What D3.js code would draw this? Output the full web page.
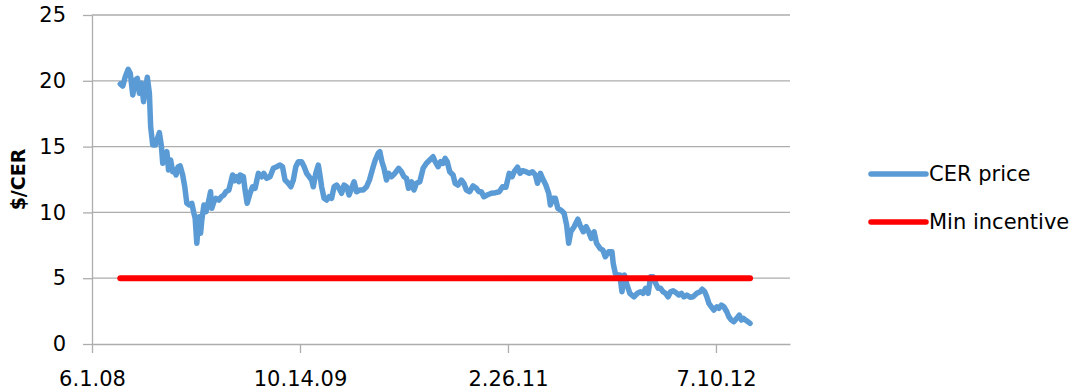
<!DOCTYPE html>
<html>
<head>
<meta charset="utf-8">
<script src="https://cdn.jsdelivr.net/npm/d3@7"></script>
<style>
  body { margin: 0; background: #fff; }
  svg { display: block; }
  text { font-family: "DejaVu Sans", "Open Sans", sans-serif; fill: #000; }
</style>
</head>
<body>
<svg id="chart" width="1078" height="392"></svg>
<script>
// Day count from 1 June 2008 for each CER price observation
const startDate = new Date(2008, 5, 1);
const dayOffsets = [
  68,74,80,87,92,98,104,109,114,119,124,128,133,138,141,146,152,156,162,167,
  170,175,180,184,189,194,199,202,207,212,218,223,228,234,240,245,248,252,255,258,
  261,264,269,274,281,285,288,293,298,305,311,317,322,329,333,338,343,348,353,
  356,364,368,373,380,386,392,400,408,413,420,428,436,444,452,458,464,472,478,484,
  490,496,504,510,516,522,528,532,538,544,548,552,558,564,570,576,582,588,594,600,
  606,612,618,624,630,636,644,652,660,667,
  676,681,688,692,697,702,708,713,720,728,737,744,750,756,761,768,774,780,788,796,
  804,812,820,825,832,838,844,849,854,860,868,873,880,888,894,900,908,916,924,930,
  936,942,950,960,970,
  979,987,995,1003,1010,1015,1023,1029,1035,1043,1051,1059,1066,1071,1078,1083,1091,1098,1102,1107,
  1114,1120,1127,1135,1141,1146,1151,1159,1168,1173,1181,1188,1194,1200,1207,1213,1221,1228,1234,1242,
  1250,1253,1258,1264,1269,1274,1280,
  1285,1293,1303,1311,1319,1325,1331,1337,1343,1349,1355,1361,1367,1373,1379,1385,1391,1397,1406,1411,
  1417,1423,1430,1438,1445,1454,1462,1467,1473,1478,1483,1489,1495,1502,1507,1513,1519,1526,1531,1537,
  1543,1550,1556,1561,1566,1571,1577,1582
];

// CER price, $ per CER
const cerPrice = [
  19.76,19.60,20.31,20.87,20.57,18.92,20.06,20.19,19.05,19.81,18.41,19.30,20.27,19.05,16.51,15.12,15.12,15.50,16.06,14.99,
  13.73,14.36,14.61,13.22,13.98,13.09,13.22,12.84,13.47,13.53,12.84,11.95,10.69,10.56,10.69,9.93,9.55,7.65,8.91,9.67,
  8.41,9.42,10.56,10.05,10.94,11.57,10.31,10.81,11.07,10.94,11.19,11.32,11.57,11.70,12.21,12.84,12.41,12.71,12.33,
  12.84,12.71,11.70,10.69,11.45,11.95,11.83,12.97,12.71,12.97,12.59,12.71,13.35,13.47,13.60,13.47,12.46,12.21,11.95,12.46,
  13.47,13.85,13.85,13.47,12.97,12.71,12.46,11.95,12.97,13.60,12.84,11.95,11.07,10.94,11.19,11.07,11.95,12.08,11.83,11.45,
  12.08,11.95,11.32,11.83,12.33,11.57,11.70,11.70,11.95,12.46,
  13.47,13.98,14.49,14.61,13.85,13.35,12.46,12.97,12.71,12.97,13.35,13.09,12.71,12.59,11.83,12.33,11.70,12.21,12.33,13.35,
  13.73,13.98,14.23,13.85,13.47,13.85,13.73,14.11,13.85,13.09,12.84,12.21,12.08,12.46,12.21,11.70,11.57,12.01,11.83,11.57,
  11.57,11.19,11.32,11.45,11.50,
  11.57,11.95,11.91,12.97,12.71,13.09,13.43,12.97,13.17,13.09,12.97,13.09,12.84,12.21,12.97,12.59,12.08,11.45,10.56,11.07,
  11.07,10.31,10.18,9.93,9.04,7.65,8.53,8.91,9.48,9.04,8.53,8.91,8.53,8.03,8.53,7.65,7.27,7.14,6.63,7.01,
  7.01,6.13,5.37,5.24,5.24,3.97,5.24,
  4.61,3.85,3.59,3.85,3.97,3.85,4.23,3.85,5.11,5.11,4.61,4.23,4.23,3.97,3.85,3.59,3.97,4.05,3.85,3.72,
  3.85,3.59,3.72,3.55,3.59,3.85,3.97,4.16,3.97,3.59,3.09,2.83,2.58,2.83,2.71,2.96,2.83,2.45,2.07,1.82,
  1.69,1.95,2.20,1.82,1.95,1.82,1.69,1.57
];

// Minimum incentive level, held flat over the whole period
const minIncentive = [5, 5];

const yTicks = [0, 5, 10, 15, 20, 25];
const xTickDays = [0, 500, 1000, 1500];
const xTickLabels = ["6.1.08", "10.14.09", "2.26.11", "7.10.12"];
const axisEndDay = 1678;
const seriesNames = ["CER price", "Min incentive"];
const seriesColors = ["#5B9BD5", "#FF0000"];

const dateOf = d => d3.timeDay.offset(startDate, d);
const fontStack = "'DejaVu Sans', 'Open Sans', sans-serif";

const svg = d3.select("#chart");
const plot = { left: 92, right: 790, top: 15, bottom: 344 };

const x = d3.scaleTime()
  .domain([dateOf(0), dateOf(axisEndDay)])
  .range([plot.left, plot.right]);
const y = d3.scaleLinear()
  .domain([0, 25])
  .range([plot.bottom, plot.top]);

const gridColor = "#ADADAD";

// horizontal gridlines
svg.append("g")
  .selectAll("line")
  .data(yTicks.filter(t => t > 0))
  .join("line")
  .attr("x1", plot.left).attr("x2", plot.right)
  .attr("y1", d => y(d)).attr("y2", d => y(d))
  .attr("stroke", gridColor).attr("stroke-width", 1.3);

// y axis
const yAxis = svg.append("g")
  .attr("transform", `translate(${plot.left},0)`)
  .call(d3.axisLeft(y).tickValues(yTicks).tickSize(9).tickSizeOuter(0).tickPadding(17));
yAxis.selectAll("path, line").attr("stroke", gridColor).attr("stroke-width", 1.3);
yAxis.selectAll("text").attr("font-size", 21).attr("font-family", fontStack).attr("fill", "#000");

// x axis
const xAxis = svg.append("g")
  .attr("transform", `translate(0,${plot.bottom})`)
  .call(d3.axisBottom(x)
    .tickValues(xTickDays.map(dateOf))
    .tickFormat((d, i) => xTickLabels[i])
    .tickSize(9).tickSizeOuter(0).tickPadding(18));
xAxis.selectAll("path, line").attr("stroke", gridColor).attr("stroke-width", 1.3);
xAxis.selectAll("text").attr("font-size", 21).attr("font-family", fontStack).attr("fill", "#000");

// y axis title
svg.append("text")
  .attr("transform", `translate(25,${(plot.top + plot.bottom) / 2}) rotate(-90)`)
  .attr("text-anchor", "middle")
  .attr("font-size", 19)
  .attr("font-weight", "bold")
  .text("$/CER");

// CER price line
const priceData = dayOffsets.map((d, i) => ({ date: dateOf(d), value: cerPrice[i] }));
const line = d3.line().x(d => x(d.date)).y(d => y(d.value));
svg.append("path")
  .datum(priceData)
  .attr("d", line)
  .attr("fill", "none")
  .attr("stroke", seriesColors[0])
  .attr("stroke-width", 5.5)
  .attr("stroke-linejoin", "round")
  .attr("stroke-linecap", "round");

// minimum incentive line
const incentiveData = [dayOffsets[0], dayOffsets[dayOffsets.length - 1]]
  .map((d, i) => ({ date: dateOf(d), value: minIncentive[i] }));
svg.append("path")
  .datum(incentiveData)
  .attr("d", line)
  .attr("fill", "none")
  .attr("stroke", seriesColors[1])
  .attr("stroke-width", 6)
  .attr("stroke-linecap", "round");

// legend
const legend = svg.append("g").attr("transform", "translate(871,174)");
seriesNames.forEach((name, i) => {
  const g = legend.append("g").attr("transform", `translate(0,${i * 48})`);
  g.append("line")
    .attr("x1", 0).attr("x2", 55).attr("y1", 0).attr("y2", 0)
    .attr("stroke", seriesColors[i]).attr("stroke-width", 5.5)
    .attr("stroke-linecap", "round");
  g.append("text")
    .attr("x", 58).attr("y", 0).attr("dy", "0.35em")
    .attr("font-size", 21)
    .text(name);
});
</script>
</body>
</html>
